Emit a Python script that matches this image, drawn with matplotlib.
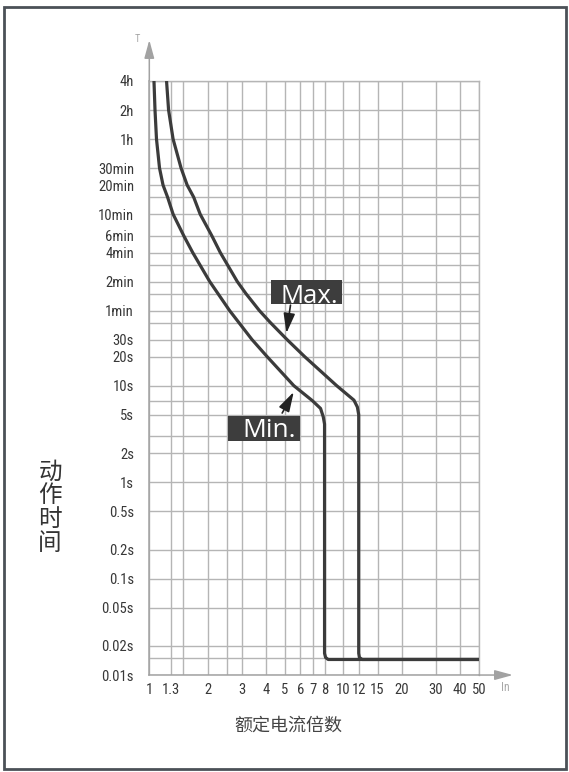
import matplotlib.pyplot as plt
from matplotlib import font_manager
from matplotlib.patches import Rectangle

# tripping characteristic, rated current multiple vs. operating time (s)
min_curve_x = [1.057, 1.070, 1.089, 1.129, 1.177, 1.242, 1.326, 1.503, 1.673, 2.048,
               2.593, 3.384, 4.046, 5.553, 6.915, 7.63, 7.88, 8.0, 8.0, 8.1, 8.35, 50]
min_curve_t = [14400, 7200, 3600, 1800, 1200, 900, 600, 360, 240, 120,
               60, 30, 20, 10, 7, 5.8, 4.74, 4.0, 0.0168, 0.0152, 0.0145, 0.0145]

max_curve_x = [1.227, 1.257, 1.326, 1.458, 1.567, 1.693, 1.828, 2.097, 2.321, 2.84,
               3.147, 3.692, 4.209, 5.128, 6.316, 9.235, 11.34, 11.81, 12.0, 12.0,
               12.1, 12.5, 50]
max_curve_t = [14400, 7200, 3600, 1800, 1200, 900, 600, 360, 240, 120,
               90, 60, 45, 30, 20, 10, 7.07, 6.0, 5.0, 0.0168,
               0.0152, 0.0145, 0.0145]

x_ticks = [1, 1.3, 2, 3, 4, 5, 6, 7, 8, 10, 12, 15, 20, 30, 40, 50]
x_tick_labels = ['1', '1.3', '2', '3', '4', '5', '6', '7', '8', '10', '12', '15',
                 '20', '30', '40', '50']
x_extra_grid = [1.5, 2.5]

y_ticks = [14400, 7200, 3600, 1800, 1200, 600, 360, 240, 120, 60, 30, 20, 10, 5,
           2, 1, 0.5, 0.2, 0.1, 0.05, 0.02, 0.01]
y_tick_labels = ['4h', '2h', '1h', '30min', '20min', '10min', '6min', '4min', '2min',
                 '1min', '30s', '20s', '10s', '5s', '2s', '1s', '0.5s', '0.2s', '0.1s',
                 '0.05s', '0.02s', '0.01s']
y_extra_grid = [900, 180, 90, 45, 7, 3, 0.015]

# where the Max./Min. pointers touch the curves
max_arrow = ((5.34, 68.3), (5.09, 35.0))
min_arrow = ((4.84, 5.2), (5.55, 8.6))


def pick_font(names, default='DejaVu Sans'):
    for name in names:
        try:
            font_manager.findfont(name, fallback_to_default=False)
            return name
        except ValueError:
            continue
    return default


narrow = pick_font(['Liberation Sans Narrow', 'DejaVu Sans Condensed', 'Roboto Condensed'])
cjk = ['Noto Sans CJK SC', 'DejaVu Sans']

GRID = '#b5b5b5'
CURVE = '#3b3b3b'
LABEL = '#383838'

fig = plt.figure(figsize=(5.69, 7.72), dpi=100)
ax = fig.add_axes([0.2624, 0.1256, 0.5794, 0.7695])

ax.plot(min_curve_x, min_curve_t, color=CURVE, lw=2.3, solid_joinstyle='round',
        solid_capstyle='butt', zorder=3)
ax.plot(max_curve_x, max_curve_t, color=CURVE, lw=2.3, solid_joinstyle='round',
        solid_capstyle='butt', zorder=3)

ax.set_xscale('log')
ax.set_yscale('log')
ax.set_xlim(1, 50)
ax.set_ylim(0.01, 14400)

ax.set_xticks(x_ticks, x_tick_labels)
ax.set_xticks(x_extra_grid, minor=True)
ax.set_yticks(y_ticks, y_tick_labels)
ax.set_yticks(y_extra_grid, minor=True)
ax.tick_params(which='both', length=0)
ax.tick_params(axis='y', pad=11)
ax.tick_params(axis='x', pad=6)
for lbl in ax.get_xticklabels() + ax.get_yticklabels():
    lbl.set_fontfamily(narrow)
    lbl.set_fontsize(10.5)
    lbl.set_color(LABEL)
ax.grid(True, which='both', color=GRID, lw=1.0)
ax.set_axisbelow(True)

for side in ['top', 'right']:
    ax.spines[side].set_color(GRID)
    ax.spines[side].set_linewidth(1.0)
for side in ['left', 'bottom']:
    ax.spines[side].set_color('#a2a2a2')
    ax.spines[side].set_linewidth(1.1)

# axis arrows
arrow_kw = dict(arrowstyle='-|>,head_length=1.1,head_width=0.3', color='#a2a2a2',
                lw=1.1, shrinkA=0, shrinkB=0, mutation_scale=10)
ax.annotate('', xy=(0, 1.069), xytext=(0, 1), xycoords='axes fraction',
            arrowprops=arrow_kw, annotation_clip=False)
ax.annotate('', xy=(1.103, 0), xytext=(1, 0), xycoords='axes fraction',
            arrowprops=arrow_kw, annotation_clip=False)
fig.text(0.242, 0.949, 'T', fontsize=7.5, color='#a8a8a8', family=narrow,
         ha='center', va='center')
fig.text(0.8875, 0.110, 'In', fontsize=8.5, color='#a8a8a8', family=narrow,
         ha='center', va='center')

# Max./Min. tags
tag_font = pick_font(['Open Sans', 'Noto Sans'])
ax.add_patch(Rectangle((0.369, 0.624), 0.216, 0.041, transform=ax.transAxes,
                       fc='#3d3d3d', ec='none', zorder=4, clip_on=False))
ax.text(0.3985, 0.6268, 'Max.', transform=ax.transAxes, fontsize=18.5, color='white',
        family=tag_font, ha='left', va='baseline', zorder=5)
ax.add_patch(Rectangle((0.2396, 0.3944), 0.2174, 0.0421, transform=ax.transAxes,
                       fc='#3d3d3d', ec='none', zorder=4, clip_on=False))
ax.text(0.2813, 0.400, 'Min.', transform=ax.transAxes, fontsize=19, color='white',
        family=tag_font, ha='left', va='baseline', zorder=5)

pointer_kw = dict(arrowstyle='-|>,head_length=1.2,head_width=0.35', color='#222222',
                  lw=1.2, shrinkA=0, shrinkB=0, mutation_scale=10)
ax.annotate('', xy=max_arrow[1], xytext=max_arrow[0], arrowprops=pointer_kw, zorder=5)
ax.annotate('', xy=min_arrow[1], xytext=min_arrow[0], arrowprops=pointer_kw, zorder=5)

# axis titles
for i, ch in enumerate('动作时间'):
    fig.text(0.088, 1 - (472 + i * 24) / 772, ch, family=cjk, fontsize=17,
             color='#333333', ha='center', va='center')
fig.text(0.506, 1 - 726 / 772, '额定电流倍数', family=cjk, fontsize=13,
         color='#444444', ha='center', va='center')

# outer frame
fig.add_artist(Rectangle((0.0062, 0.0045), 0.988, 0.986, transform=fig.transFigure,
                         fill=False, ec='#4b5157', lw=2.0))

fig.savefig('out.png', dpi=100)
